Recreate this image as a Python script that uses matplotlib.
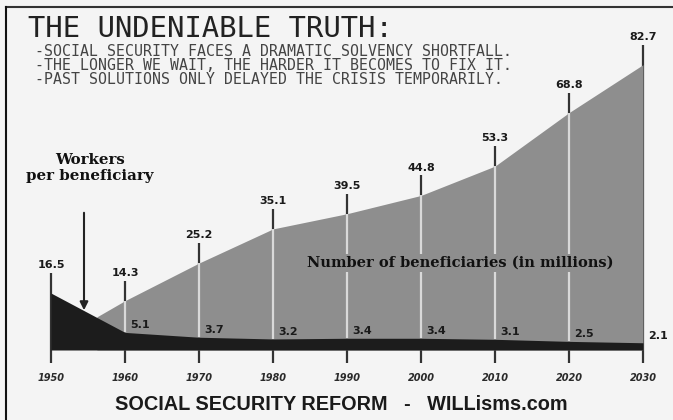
import matplotlib
matplotlib.use('Agg')
import matplotlib.pyplot as plt
from matplotlib.lines import Line2D

# chart values
years = [1950, 1960, 1970, 1980, 1990, 2000, 2010, 2020, 2030]
workers = [16.5, 5.1, 3.7, 3.2, 3.4, 3.4, 3.1, 2.5, 2.1]
ben_years = [1956.2, 1960, 1970, 1980, 1990, 2000, 2010, 2020, 2030]
beneficiaries = [9.6, 14.3, 25.2, 35.1, 39.5, 44.8, 53.3, 68.8, 82.7]
bullets = ['-SOCIAL SECURITY FACES A DRAMATIC SOLVENCY SHORTFALL.',
           '-THE LONGER WE WAIT, THE HARDER IT BECOMES TO FIX IT.',
           '-PAST SOLUTIONS ONLY DELAYED THE CRISIS TEMPORARILY.']

bg = '#f4f4f4'
gray = '#8e8e8e'
dark = '#1c1c1c'
W, H = 673, 420

fig = plt.figure(figsize=(W / 100, H / 100), dpi=100, facecolor=bg)
ax = fig.add_axes([0, 0, 1, 1], facecolor=bg)
# 1950 -> x=51px, 2030 -> x=643px ; value 0 -> y=350px, 3.45 px per unit
pxx = (643 - 51) / 80
pxy = 3.45
ax.set_xlim(1950 - 51 / pxx, 2030 + (W - 643) / pxx)
ax.set_ylim(-(H - 350) / pxy, 350 / pxy)
for s in ax.spines.values():
    s.set_visible(False)

ben_map = dict(zip(ben_years, beneficiaries))
line_ext = 20 / pxy

# vertical year lines (dark part)
for yr, w in zip(years, workers):
    top = ben_map.get(yr, w)
    ax.plot([yr, yr], [0, top + line_ext], color='#333333', lw=1.6,
            zorder=1, solid_capstyle='butt')

ax.fill_between(ben_years, 0, beneficiaries, color=gray, lw=0, zorder=2)

# light part of the lines inside the gray area
for yr, w in zip(years[1:-1], workers[1:-1]):
    ax.plot([yr, yr], [w, ben_map[yr]], color='#d9d9d9', lw=1.6,
            zorder=3, solid_capstyle='butt')

ax.fill_between(years, 0, workers, color=dark, lw=0, zorder=4)

# value labels above lines
for yr, w in zip(years, workers):
    top = ben_map.get(yr, w)
    ax.annotate('%.1f' % top, xy=(yr, top), xytext=(0, 20),
                textcoords='offset points', ha='center', va='center',
                fontsize=8, fontweight='bold', color='#1a1a1a', zorder=6)

# workers per beneficiary labels
for yr, w in zip(years[1:], workers[1:]):
    ax.annotate('%.1f' % w, xy=(yr, w), xytext=(3.5, 1.5),
                textcoords='offset points', ha='left', va='bottom',
                fontsize=8, fontweight='bold', color='#1a1a1a', zorder=6)

# ticks below baseline
ax.spines['bottom'].set_position(('data', 0))
ax.set_xticks(years)
ax.set_xticklabels([str(y) for y in years], fontsize=7, fontstyle='italic',
                   fontweight='bold', color='#2a2a2a')
ax.tick_params(axis='x', direction='out', length=9.5, width=1.6,
               color='#333333', pad=7)
ax.set_yticks([])

ax.text(1950 + (460 - 51) / pxx, (350 - 263) / pxy,
        'Number of beneficiaries (in millions)', ha='center', va='center',
        family='DejaVu Serif', fontweight='bold', fontsize=10.5,
        color='#111111', zorder=7,
        bbox=dict(facecolor=gray, edgecolor='none', pad=1.5))

ax.text(1950 + (90 - 51) / pxx, (350 - 168) / pxy,
        'Workers\nper beneficiary', ha='center', va='center',
        family='DejaVu Serif', fontweight='bold', fontsize=10.8,
        color='#111111', linespacing=1.25, zorder=7)
ax.annotate('', xy=(1950 + (84 - 51) / pxx, (350 - 313) / pxy),
            xytext=(1950 + (84 - 51) / pxx, (350 - 210) / pxy),
            arrowprops=dict(arrowstyle='-|>', color='#222222', lw=1.5,
                            mutation_scale=12), zorder=7)

# header text
fig.text(28 / W, 1 - 29 / H, 'THE UNDENIABLE TRUTH:', family='DejaVu Sans Mono',
         fontsize=20.8, color='#222222', ha='left', va='center')
for i, b in enumerate(bullets):
    fig.text(35 / W, 1 - (52 + 14 * i) / H, b, family='DejaVu Sans Mono',
             fontsize=10.7, color='#444444', ha='left', va='center')

fig.text(341 / W, 1 - 405 / H, 'SOCIAL SECURITY REFORM   -   WILLisms.com',
         family=['Liberation Sans', 'DejaVu Sans'], fontweight='bold',
         fontsize=14.3, color='#1a1a1a', ha='center', va='center')

# frame
fig.add_artist(Line2D([6 / W, 1], [1 - 7 / H, 1 - 7 / H], color='#333333', lw=1.5))
fig.add_artist(Line2D([6 / W, 6 / W], [0, 1 - 7 / H], color='#111111', lw=1.5))

fig.savefig('out.png', dpi=100, facecolor=bg)
